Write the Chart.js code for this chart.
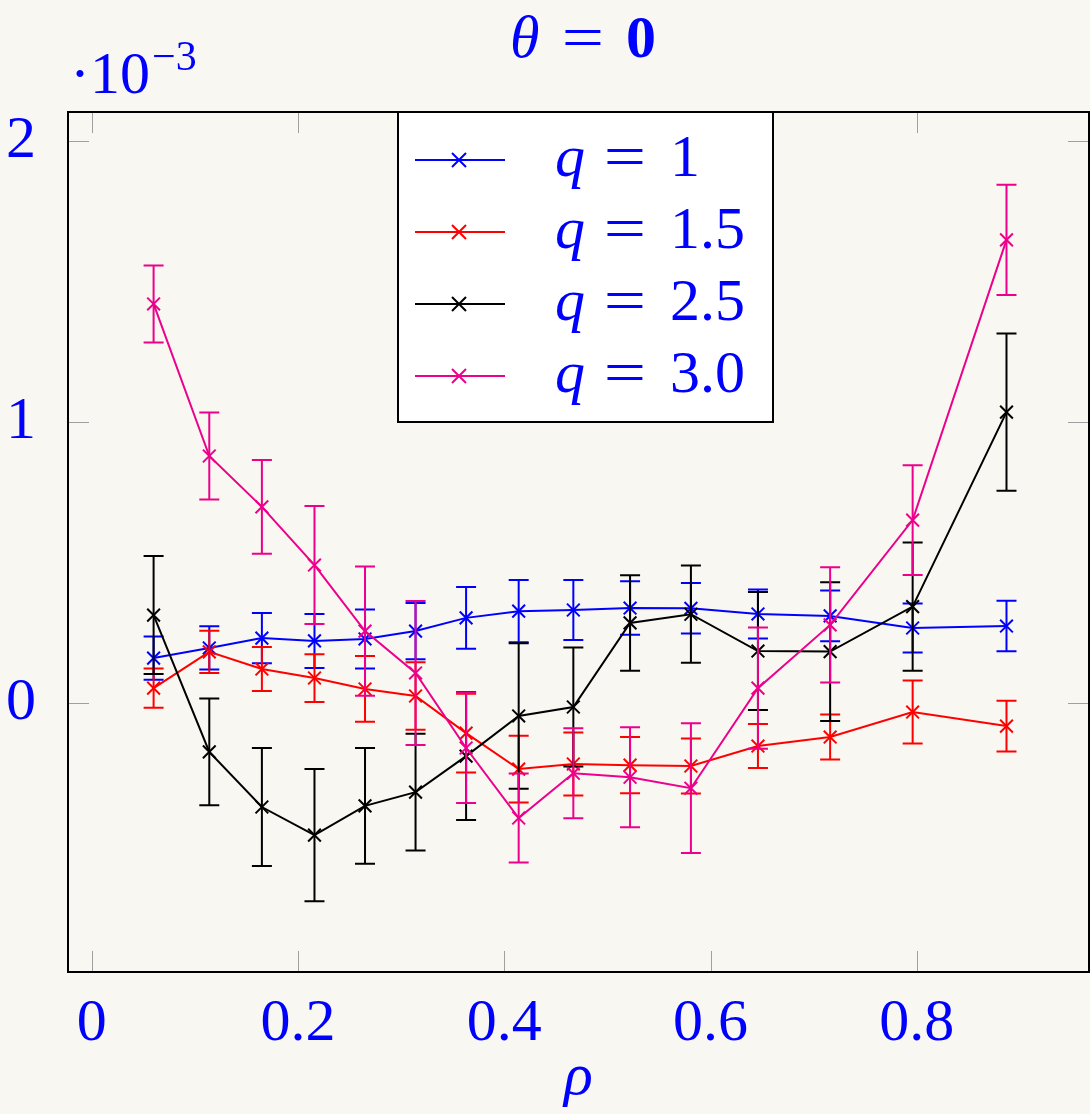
<!DOCTYPE html>
<html>
<head>
<meta charset="utf-8">
<script src="https://cdn.jsdelivr.net/npm/chart.js@4.4.1/dist/chart.umd.min.js"></script>
<style>
  html, body { margin: 0; padding: 0; overflow: hidden; background: #f8f7f1; }
  canvas { display: block; }
</style>
</head>
<body>
<canvas id="chart" width="1100" height="1114"></canvas>
<script>
// rho positions of the samples
const rho = [0.06, 0.114, 0.165, 0.216, 0.265, 0.314, 0.363, 0.414, 0.467, 0.522, 0.581, 0.646, 0.716, 0.796, 0.887];

// values in units of 10^-3, with error half-widths
const q1 = [0.160, 0.196, 0.231, 0.221, 0.228, 0.256, 0.303, 0.327, 0.331, 0.338, 0.337, 0.317, 0.310, 0.267, 0.274];
const q1Err = [0.077, 0.077, 0.089, 0.096, 0.105, 0.100, 0.110, 0.111, 0.107, 0.095, 0.090, 0.087, 0.090, 0.087, 0.090];

const q15 = [0.053, 0.182, 0.121, 0.089, 0.050, 0.025, -0.107, -0.235, -0.217, -0.221, -0.224, -0.153, -0.121, -0.032, -0.082];
const q15Err = [0.070, 0.075, 0.078, 0.085, 0.117, 0.120, 0.140, 0.119, 0.112, 0.100, 0.098, 0.078, 0.080, 0.112, 0.090];

const q25 = [0.313, -0.174, -0.370, -0.470, -0.366, -0.317, -0.189, -0.046, -0.014, 0.285, 0.316, 0.185, 0.183, 0.343, 1.035];
const q25Err = [0.210, 0.190, 0.210, 0.235, 0.206, 0.208, 0.227, 0.259, 0.212, 0.170, 0.173, 0.210, 0.247, 0.228, 0.280];

const q3 = [1.420, 0.879, 0.698, 0.491, 0.256, 0.107, -0.160, -0.409, -0.250, -0.264, -0.303, 0.053, 0.278, 0.651, 1.648];
const q3Err = [0.137, 0.155, 0.167, 0.210, 0.230, 0.256, 0.196, 0.158, 0.160, 0.178, 0.231, 0.216, 0.205, 0.195, 0.196];

const seriesLabels = ['1', '1.5', '2.5', '3.0'];
const xTicks = [0, 0.2, 0.4, 0.6, 0.8];
const xTickLabels = ['0', '0.2', '0.4', '0.6', '0.8'];
const yTicks = [0, 1, 2];
const yTickLabels = ['0', '1', '2'];

const colors = ['#0000ff', '#ff0000', '#000000', '#ec008c'];
const BG = '#f8f7f1';
const SERIF = "'Liberation Serif', 'DejaVu Serif', serif";

const allValues = [q1, q15, q25, q3];
const allErrors = [q1Err, q15Err, q25Err, q3Err];

function makeDataset(i) {
    return {
        label: seriesLabels[i],
        data: rho.map((r, k) => ({ x: r, y: allValues[i][k] })),
        errors: allErrors[i],
        borderColor: colors[i],
        backgroundColor: colors[i],
        borderWidth: 2,
        pointStyle: 'crossRot',
        pointRadius: 9,
        pointBorderWidth: 2,
        pointHoverRadius: 9,
        tension: 0,
        fill: false,
        order: 4 - i // pink drawn last
    };
}

// error bars, drawn right after each dataset
const errorBars = {
    id: 'errorBars',
    afterDatasetDraw(chart, args) {
        const ds = chart.data.datasets[args.index];
        const xs = chart.scales.x, ys = chart.scales.y;
        const ctx = chart.ctx;
        ctx.save();
        ctx.strokeStyle = ds.borderColor;
        ctx.lineWidth = 2;
        ds.data.forEach((p, k) => {
            const e = ds.errors[k];
            const px = xs.getPixelForValue(p.x);
            const top = ys.getPixelForValue(p.y + e);
            const bot = ys.getPixelForValue(p.y - e);
            ctx.beginPath();
            ctx.moveTo(px, top); ctx.lineTo(px, bot);
            ctx.moveTo(px - 10, top); ctx.lineTo(px + 10, top);
            ctx.moveTo(px - 10, bot); ctx.lineTo(px + 10, bot);
            ctx.stroke();
        });
        ctx.restore();
    }
};

// wide TeX-like equals sign
function drawEquals(ctx, cx, base) {
    ctx.save();
    ctx.font = '60px ' + SERIF;
    ctx.textAlign = 'center';
    ctx.translate(cx, base);
    ctx.scale(1.25, 1);
    ctx.fillText('=', 0, 0);
    ctx.restore();
}

const decorations = {
    id: 'decorations',
    beforeDraw(chart) {
        const ctx = chart.ctx;
        ctx.save();
        ctx.fillStyle = BG;
        ctx.fillRect(0, 0, chart.width, chart.height);
        ctx.restore();
    },
    afterDraw(chart) {
        const ctx = chart.ctx;
        const a = chart.chartArea;
        const xs = chart.scales.x, ys = chart.scales.y;
        ctx.save();

        // inward tick marks on all four sides
        ctx.strokeStyle = '#a0a0a0';
        ctx.lineWidth = 1;
        ctx.beginPath();
        xTicks.forEach(v => {
            const px = Math.round(xs.getPixelForValue(v)) + 0.5;
            ctx.moveTo(px, a.bottom); ctx.lineTo(px, a.bottom - 21);
            ctx.moveTo(px, a.top); ctx.lineTo(px, a.top + 21);
        });
        yTicks.forEach(v => {
            const py = Math.round(ys.getPixelForValue(v)) + 0.5;
            ctx.moveTo(a.left, py); ctx.lineTo(a.left + 21, py);
            ctx.moveTo(a.right, py); ctx.lineTo(a.right - 21, py);
        });
        ctx.stroke();

        // frame
        ctx.strokeStyle = '#000';
        ctx.lineWidth = 2;
        ctx.strokeRect(a.left, a.top, a.right - a.left, a.bottom - a.top);

        // legend box
        const lx = 398, ly = 112, lw = 375, lh = 310;
        ctx.fillStyle = '#ffffff';
        ctx.fillRect(lx, ly, lw, lh);
        ctx.strokeRect(lx, ly, lw, lh);
        chart.data.datasets.forEach((ds, i) => {
            const cy = 160 + i * 72;
            ctx.strokeStyle = ds.borderColor;
            ctx.lineWidth = 2;
            ctx.beginPath();
            ctx.moveTo(415, cy); ctx.lineTo(505, cy);
            ctx.moveTo(452, cy - 7); ctx.lineTo(466, cy + 7);
            ctx.moveTo(452, cy + 7); ctx.lineTo(466, cy - 7);
            ctx.stroke();
            const base = cy + 16;
            ctx.fillStyle = '#0000ff';
            ctx.textBaseline = 'alphabetic';
            ctx.textAlign = 'left';
            ctx.font = 'italic 60px ' + SERIF;
            ctx.fillText('q', 555, base);
            drawEquals(ctx, 625, base);
            ctx.font = '60px ' + SERIF;
            ctx.textAlign = 'left';
            ctx.fillText(ds.label, 670, base);
        });

        // title: theta = 0 (0 in bold)
        ctx.fillStyle = '#0000ff';
        ctx.textBaseline = 'alphabetic';
        ctx.textAlign = 'left';
        ctx.font = 'italic 60px ' + SERIF;
        ctx.fillText('θ', 510, 57);
        drawEquals(ctx, 583, 57);
        ctx.textAlign = 'left';
        ctx.font = 'bold 60px ' + SERIF;
        ctx.fillText('0', 626, 57);

        // axis multiplier
        ctx.font = '60px ' + SERIF;
        ctx.fillText('·10', 70, 93);
        ctx.font = '42px ' + SERIF;
        ctx.fillText('−3', 152, 70);

        ctx.restore();
    }
};

function draw() {
    const ctx = document.getElementById('chart').getContext('2d');
    new Chart(ctx, {
        type: 'line',
        data: { datasets: [0, 1, 2, 3].map(makeDataset) },
        options: {
            responsive: false,
            animation: false,
            layout: { padding: { top: 112, right: 0, bottom: 0, left: 0 } },
            plugins: {
                legend: { display: false },
                title: { display: false },
                tooltip: { enabled: false }
            },
            scales: {
                x: {
                    type: 'linear',
                    min: -0.023,
                    max: 0.967,
                    afterFit: s => { s.height = 142; },
                    afterBuildTicks: s => { s.ticks = xTicks.map(v => ({ value: v })); },
                    grid: { display: false },
                    border: { display: false },
                    ticks: {
                        color: '#0000ff',
                        font: { family: SERIF, size: 60 },
                        padding: 8,
                        maxRotation: 0,
                        autoSkip: false,
                        callback: (v) => xTickLabels[xTicks.indexOf(v)]
                    },
                    title: {
                        display: true,
                        text: 'ρ',
                        color: '#0000ff',
                        font: { family: SERIF, size: 60, style: 'italic' },
                        padding: { top: 0, bottom: 0 }
                    }
                },
                y: {
                    type: 'linear',
                    min: -0.957,
                    max: 2.103,
                    afterFit: s => { s.width = 68; },
                    afterBuildTicks: s => { s.ticks = yTicks.map(v => ({ value: v })); },
                    grid: { display: false },
                    border: { display: false },
                    ticks: {
                        color: '#0000ff',
                        font: { family: SERIF, size: 60 },
                        padding: 24,
                        callback: (v) => yTickLabels[yTicks.indexOf(v)]
                    }
                }
            }
        },
        plugins: [errorBars, decorations]
    });
}

// make sure the serif faces are ready before drawing on the canvas
Promise.all([
    document.fonts.load("60px 'Liberation Serif'"),
    document.fonts.load("italic 60px 'Liberation Serif'"),
    document.fonts.load("bold 60px 'Liberation Serif'")
]).catch(() => {}).then(draw);
</script>
</body>
</html>
